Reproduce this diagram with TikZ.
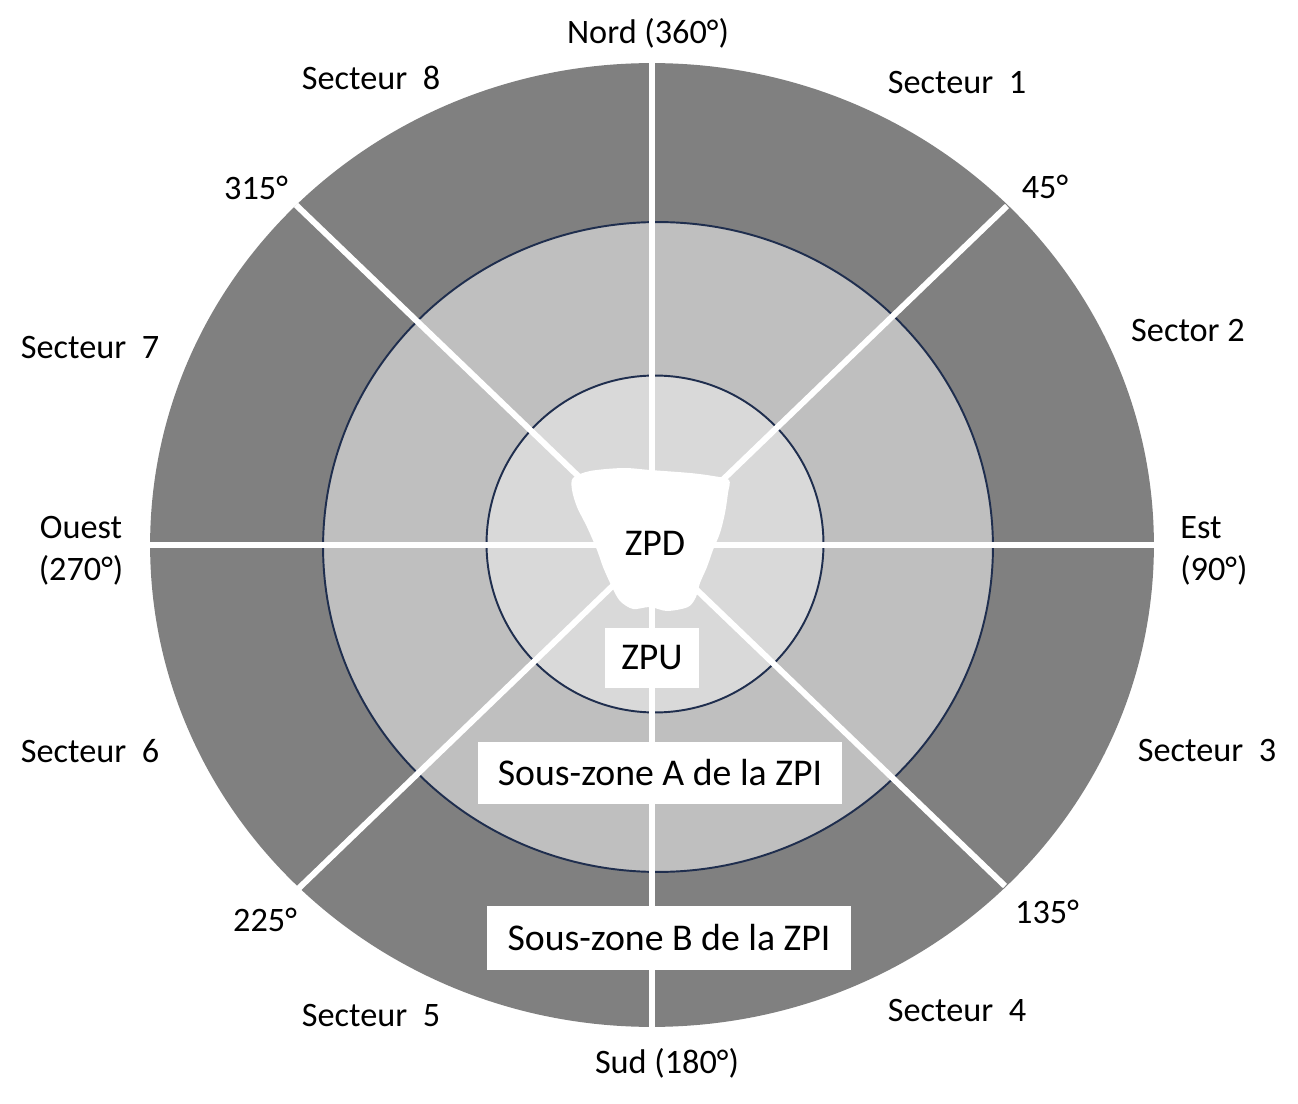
\documentclass[tikz,border=0pt]{standalone}
\usepackage{fontspec}
\setmainfont{Carlito}
\usepackage{tikz}
\usetikzlibrary{calc}
\definecolor{zpiB}{HTML}{808080}
\definecolor{zpiA}{HTML}{BFBFBF}
\definecolor{zpu}{HTML}{D9D9D9}
\definecolor{rimblue}{HTML}{1F2E4E}
\tikzset{
    ray/.style={draw=white, line width=3.4pt},
    rim/.style={draw=rimblue, line width=1.1pt},
    zonebox/.style={fill=white, inner sep=0pt, font=\fontsize{21.5}{24}\selectfont}}

\begin{document}
\begin{tikzpicture}[x=0.02cm,y=-0.02cm]
\tikzstyle{lab}=[font=\fontsize{19.5}{23.8}\selectfont, align=center, inner sep=0pt]
    \useasboundingbox (0,0) rectangle (1298,1104);
    \coordinate (O) at (652,545);
    \coordinate (N) at (652,62);
    \coordinate (S) at (652,1028);
    \coordinate (W) at (148,545);
    \coordinate (E) at (1155,545);
    \coordinate (NE) at (1007,206);
    \coordinate (SE) at (1005,886);
    \coordinate (SW) at (298,889);
    \coordinate (NW) at (296,205);

    % zones
    \fill[zpiB] (O) ellipse [x radius=10.04cm, y radius=9.64cm];
    \filldraw[fill=zpiA, rim] (658,547) ellipse [x radius=6.7cm, y radius=6.5cm];
    \filldraw[fill=zpu, rim] (655,544) circle [radius=3.37cm];

    % sector limits
    \draw[ray] (N) -- (S);
    \draw[ray] (W) -- (E);
    \draw[ray] (NW) -- (SE);
    \draw[ray] (NE) -- (SW);

    % ZPD
    \fill[white] plot[smooth cycle, tension=0.5] coordinates {(573,478) (590,471) (623,468) (650,470) (690,473) (713,476) (729,480) (728,493) (725,513) (720,533) (713,550) (707,567) (700,583) (696,597) (688,607) (667,611) (650,607) (633,609) (620,601) (612,587) (603,567) (597,550) (587,527) (577,507) (572,490)};
    \node (ZPD)[zonebox, fill=none] at (655,543) {ZPD};

    \node (ZPU)[zonebox, minimum width=1.9cm, minimum height=1.22cm] at (652,658) {ZPU};
    \node (SZA)[zonebox, minimum width=7.3cm, minimum height=1.24cm] at (660,773) {Sous-zone A de la ZPI};
    \node (SZB)[zonebox, minimum width=7.3cm, minimum height=1.28cm] at (669,938) {Sous-zone B de la ZPI};

    % labels
    \node (Nord)[lab] at (648,33) {Nord (360°)};
    \node (Sud)[lab] at (667,1063) {Sud (180°)};
    \node (Ouest)[lab] at (81,551) {Ouest\\(270°)};
    \node (Est)[lab, align=left, anchor=west] at (1180,551) {Est\\(90°)};
    \node (D45)[lab] at (1045,187) {45°};
    \node (D135)[lab] at (1047,912) {135°};
    \node (D225)[lab] at (265,920) {225°};
    \node (D315)[lab] at (256,188) {315°};
    \node (S1)[lab] at (957,83) {Secteur~ 1};
    \node (S2)[lab] at (1188,331) {Sector 2};
    \node (S3)[lab] at (1207,751) {Secteur~ 3};
    \node (S4)[lab] at (957,1011) {Secteur~ 4};
    \node (S5)[lab] at (371,1016) {Secteur~ 5};
    \node (S6)[lab] at (90,751) {Secteur~ 6};
    \node (S7)[lab] at (90,348) {Secteur~ 7};
    \node (S8)[lab] at (371,78) {Secteur~ 8};
\end{tikzpicture}
\end{document}
